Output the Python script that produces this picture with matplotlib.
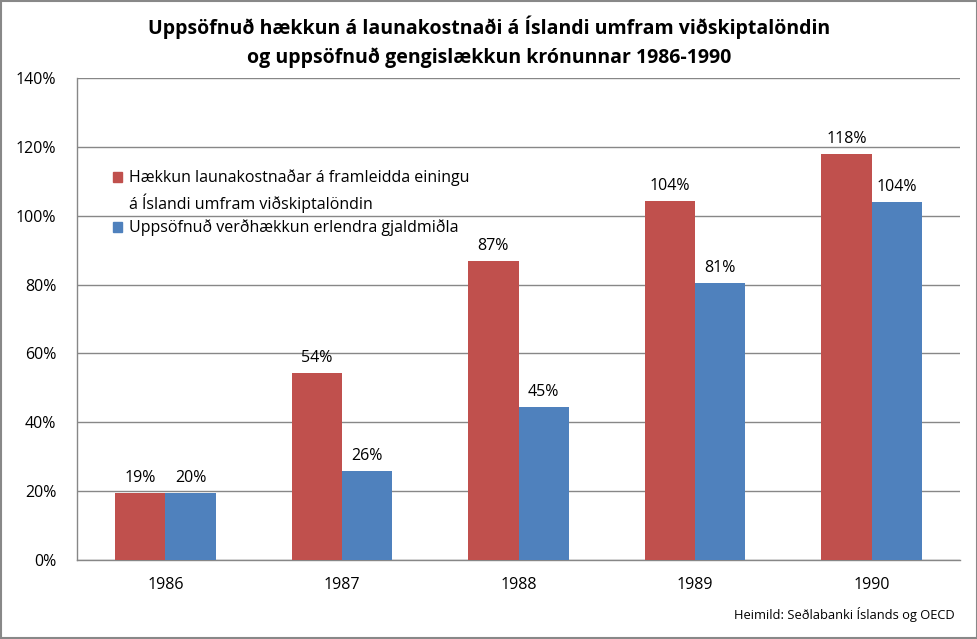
import matplotlib
matplotlib.use("Agg")
import matplotlib.pyplot as plt
from matplotlib.patches import Patch
import numpy as np

years = ["1986", "1987", "1988", "1989", "1990"]
laun = [19.4, 54.3, 86.8, 104.3, 117.9]
gengi = [19.6, 25.8, 44.4, 80.4, 104.0]
laun_labels = ["19%", "54%", "87%", "104%", "118%"]
gengi_labels = ["20%", "26%", "45%", "81%", "104%"]
yticks = [0, 20, 40, 60, 80, 100, 120, 140]
series_names = ["Hækkun launakostnaðar á framleidda einingu\ná Íslandi umfram viðskiptalöndin",
                "Uppsöfnuð verðhækkun erlendra gjaldmiðla"]
title = "Uppsöfnuð hækkun á launakostnaði á Íslandi umfram viðskiptalöndin\nog uppsöfnuð gengislækkun krónunnar 1986-1990"
source = "Heimild: Seðlabanki Íslands og OECD"

plt.rcParams['font.family'] = ['Open Sans', 'DejaVu Sans']

red = "#C0504D"
blue = "#4F81BD"
grid = "#878787"

fig = plt.figure(figsize=(9.78, 6.39), dpi=100)
ax = fig.add_axes([77/978, 1-560/639, (960-77)/978, (560-78)/639])

x = np.arange(len(years))
w = 0.285
b1 = ax.bar(x - w/2, laun, w, color=red, zorder=3, label=series_names[0])
b2 = ax.bar(x + w/2, gengi, w, color=blue, zorder=3, label=series_names[1])
for rect, lab in zip(b1, laun_labels):
    ax.text(rect.get_x() + rect.get_width()/2, rect.get_height() + 2.0, lab,
            ha="center", va="bottom", fontsize=11.5)
for rect, lab in zip(b2, gengi_labels):
    ax.text(rect.get_x() + rect.get_width()/2, rect.get_height() + 2.0, lab,
            ha="center", va="bottom", fontsize=11.5)

ax.set_xlim(-0.5, len(years) - 0.5)
ax.set_ylim(0, 140)
ax.set_yticks(yticks)
ax.set_yticklabels([f"{v}%" for v in yticks], fontsize=11.5)
ax.set_xticks(x)
ax.set_xticklabels(years, fontsize=11.5)
ax.yaxis.grid(True, color=grid, linewidth=1, zorder=0)
ax.set_axisbelow(True)
ax.tick_params(axis="y", length=0, pad=15)
ax.tick_params(axis="x", length=0, pad=12)
for s in ["top", "right"]:
    ax.spines[s].set_visible(False)
for s in ["left", "bottom"]:
    ax.spines[s].set_color(grid)
    ax.spines[s].set_linewidth(1)

# legend: marker of the first series sits on the first line of its two-line label
first_lines = series_names[0].split("\n")
handles = [Patch(color=red), Patch(color="none"), Patch(color=blue)]
labels = [first_lines[0], first_lines[1], series_names[1]]
leg = ax.legend(handles, labels, loc="upper left", bbox_to_anchor=(0.033, 0.823),
                frameon=False, fontsize=11.5, handlelength=0.6, handleheight=0.6,
                handletextpad=0.4, labelspacing=0.42, borderaxespad=0)

fig.text(0.5, 1-42/639, title, ha="center", va="center", fontsize=14, fontweight="bold",
         linespacing=1.55)
fig.text(955/978, 1-615/639, source, ha="right", va="center", fontsize=9.3)

fig.patches.append(plt.Rectangle((0.001, 0.001), 0.998, 0.997, transform=fig.transFigure,
                                 fill=False, edgecolor="#888888", linewidth=1.5))

fig.savefig("out.png", dpi=100)
